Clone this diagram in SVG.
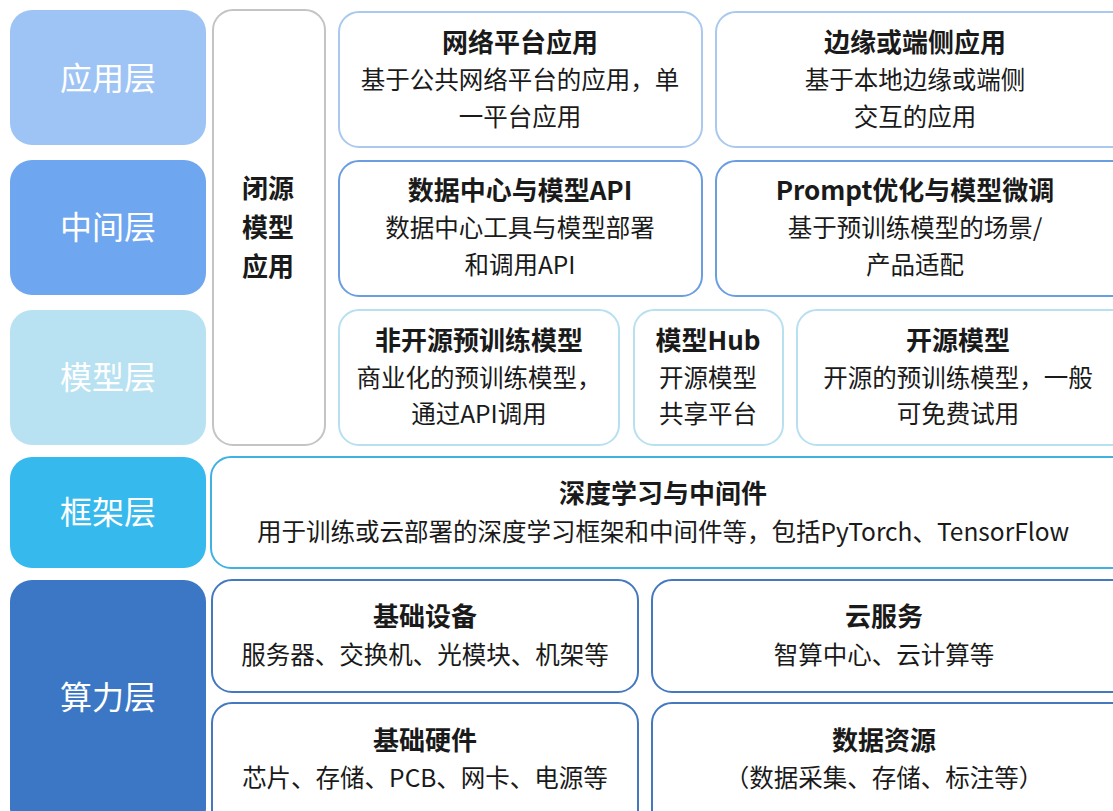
<svg xmlns="http://www.w3.org/2000/svg" width="1113" height="811" viewBox="0 0 1113 811">
<style>
.lay{font-family:"Noto Sans CJK SC","Noto Sans",sans-serif;font-size:32px;fill:#ffffff;text-anchor:middle;dominant-baseline:central}
.t{font-family:"Noto Sans CJK SC","Noto Sans",sans-serif;font-size:26px;font-weight:bold;fill:#1a1a1a;text-anchor:middle;dominant-baseline:central}
.b{font-family:"Noto Sans CJK SC","Noto Sans",sans-serif;font-size:24.5px;fill:#1a1a1a;text-anchor:middle;dominant-baseline:central}
.box{fill:#ffffff;stroke-width:2}
.app{stroke:#a9c9ee}
.mid{stroke:#6b9ee0}
.mod{stroke:#b8e0f0}
.frm{stroke:#3fb2e2}
.cmp{stroke:#4478bf}
</style>
<rect width="1113" height="811" fill="#ffffff"/>
<g id="layer-app"><rect x="10" y="10" width="196" height="135" rx="22" fill="#9dc4f5"/><text class="lay" x="108" y="76">应用层</text></g>
<g id="layer-mid"><rect x="10" y="160" width="196" height="135" rx="22" fill="#6ea7ef"/><text class="lay" x="108" y="225">中间层</text></g>
<g id="layer-model"><rect x="10" y="310" width="196" height="135" rx="22" fill="#b8e2f2"/><text class="lay" x="108" y="375">模型层</text></g>
<g id="layer-frame"><rect x="10" y="457" width="196" height="111" rx="22" fill="#36baee"/><text class="lay" x="108" y="510">框架层</text></g>
<g id="layer-compute"><rect x="10" y="580" width="196" height="250" rx="22" fill="#3b77c5"/><text class="lay" x="108" y="695">算力层</text></g>

<g id="closed-app"><rect class="box" x="213" y="10" width="112" height="435" rx="20" stroke="#c4c4c4"/>
<text class="t" x="268" y="186">闭源</text><text class="t" x="268" y="225">模型</text><text class="t" x="268" y="264">应用</text></g>

<g id="net-app"><rect class="box app" x="339" y="12" width="363" height="135" rx="20"/>
<text class="t" x="520" y="40">网络平台应用</text><text class="b" x="520" y="78">基于公共网络平台的应用，单</text><text class="b" x="520" y="115">一平台应用</text></g>
<g id="edge-app"><rect class="box app" x="716" y="12" width="420" height="135" rx="20"/>
<text class="t" x="915" y="40">边缘或端侧应用</text><text class="b" x="915" y="78">基于本地边缘或端侧</text><text class="b" x="915" y="115">交互的应用</text></g>

<g id="dc-api"><rect class="box mid" x="339" y="161" width="363" height="135" rx="20"/>
<text class="t" x="520" y="188">数据中心与模型API</text><text class="b" x="520" y="226">数据中心工具与模型部署</text><text class="b" x="520" y="263">和调用API</text></g>
<g id="prompt"><rect class="box mid" x="716" y="161" width="420" height="135" rx="20"/>
<text class="t" x="915" y="188">Prompt优化与模型微调</text><text class="b" x="915" y="226">基于预训练模型的场景/</text><text class="b" x="915" y="263">产品适配</text></g>

<g id="closed-model"><rect class="box mod" x="339" y="310" width="280" height="135" rx="20"/>
<text class="t" x="479" y="338">非开源预训练模型</text><text class="b" x="479" y="376">商业化的预训练模型，</text><text class="b" x="479" y="412">通过API调用</text></g>
<g id="model-hub"><rect class="box mod" x="634" y="310" width="149" height="135" rx="20"/>
<text class="t" x="708" y="338">模型Hub</text><text class="b" x="708" y="376">开源模型</text><text class="b" x="708" y="412">共享平台</text></g>
<g id="open-model"><rect class="box mod" x="797" y="310" width="340" height="135" rx="20"/>
<text class="t" x="958" y="338">开源模型</text><text class="b" x="958" y="376">开源的预训练模型，一般</text><text class="b" x="958" y="412">可免费试用</text></g>

<g id="dl-middleware"><rect class="box frm" x="211" y="457" width="925" height="111" rx="20"/>
<text class="t" x="663" y="491">深度学习与中间件</text><text class="b" x="663" y="530">用于训练或云部署的深度学习框架和中间件等，包括PyTorch、TensorFlow</text></g>

<g id="infra-device"><rect class="box cmp" x="212" y="580" width="426" height="112" rx="20"/>
<text class="t" x="425" y="614">基础设备</text><text class="b" x="425" y="653">服务器、交换机、光模块、机架等</text></g>
<g id="cloud"><rect class="box cmp" x="652" y="580" width="484" height="112" rx="20"/>
<text class="t" x="884" y="614">云服务</text><text class="b" x="884" y="653">智算中心、云计算等</text></g>
<g id="infra-hw"><rect class="box cmp" x="212" y="703" width="426" height="130" rx="20"/>
<text class="t" x="425" y="738">基础硬件</text><text class="b" x="425" y="776">芯片、存储、PCB、网卡、电源等</text></g>
<g id="data-res"><rect class="box cmp" x="652" y="703" width="484" height="130" rx="20"/>
<text class="t" x="884" y="738">数据资源</text><text class="b" x="884" y="776">（数据采集、存储、标注等）</text></g>
<g id="connectors"></g>
</svg>
